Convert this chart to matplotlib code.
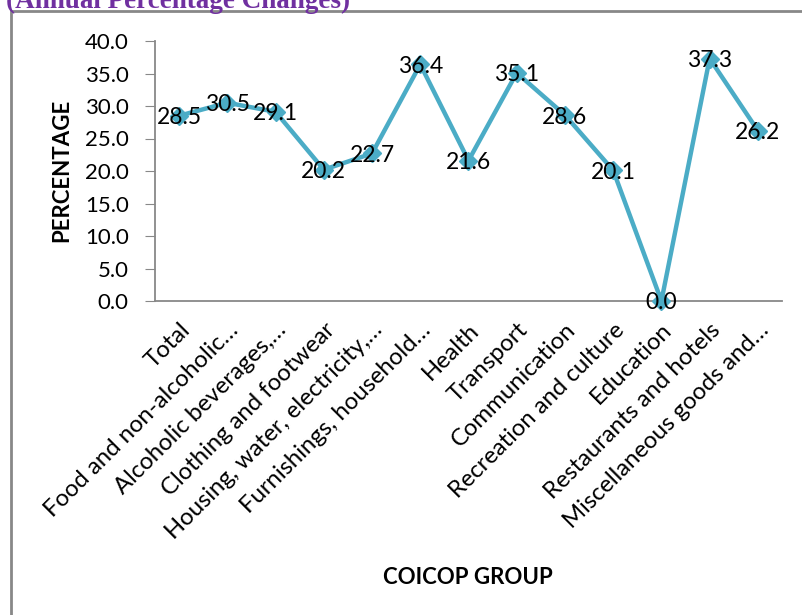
import matplotlib.pyplot as plt
from matplotlib.patches import Rectangle

groups = ['Total', 'Food and non-alcoholic…', 'Alcoholic beverages,…',
          'Clothing and footwear', 'Housing, water, electricity,…',
          'Furnishings, household…', 'Health', 'Transport', 'Communication',
          'Recreation and culture', 'Education', 'Restaurants and hotels',
          'Miscellaneous goods and…']
pct = [28.5, 30.5, 29.1, 20.2, 22.7, 36.4, 21.6, 35.1, 28.6, 20.1, 0.0, 37.3, 26.2]
yticks = [0, 5, 10, 15, 20, 25, 30, 35, 40]

plt.rcParams['font.family'] = ['Lato', 'DejaVu Sans']

fig = plt.figure(figsize=(8.03, 6.15), dpi=100)
ax = fig.add_axes([155/803, 1-301/615, 627/803, 260/615])

x = list(range(len(groups)))
ax.plot(x, pct, color='#4BACC6', lw=3.2, marker='D', ms=9, clip_on=False, zorder=3)
for i, v in enumerate(pct):
    ax.text(i, v - 0.3, f'{v:.1f}', ha='center', va='center', fontsize=16.5, zorder=4)

ax.set_xlim(-0.5, len(groups) - 0.5)
ax.set_ylim(0, 40)
ax.set_yticks(yticks)
ax.set_yticklabels([f'{t:.1f}' for t in yticks], fontsize=16)
ax.set_xticks(x)
ax.set_xticklabels(groups, rotation=45, ha='right', rotation_mode='anchor', fontsize=17.2)
ax.tick_params(axis='x', length=0, pad=13)
ax.tick_params(axis='y', length=7, color='#888888', pad=12)
for s in ['top', 'right']:
    ax.spines[s].set_visible(False)
for s in ['left', 'bottom']:
    ax.spines[s].set_color('#888888')
    ax.spines[s].set_linewidth(1.3)

fig.text(62/803, 1-170/615, 'PERCENTAGE', rotation=90, ha='center', va='center',
         fontsize=16, fontweight='bold')
fig.text(468/803, 1-577/615, 'COICOP GROUP', ha='center', va='center',
         fontsize=16, fontweight='bold')

# outer chart frame, running off the right and bottom edges
fig.patches.append(Rectangle((11/803, -0.05), 1.0, 1-11/615+0.05, transform=fig.transFigure,
                             fill=False, edgecolor='#888888', lw=2, clip_on=False))
# clipped heading above the chart
fig.text(6/803, 1-1/615, '(Annual Percentage Changes)', ha='left', va='center',
         fontsize=19.5, fontweight='bold', color='#7030A0', family='Liberation Serif')

fig.savefig('out.png', dpi=100)
